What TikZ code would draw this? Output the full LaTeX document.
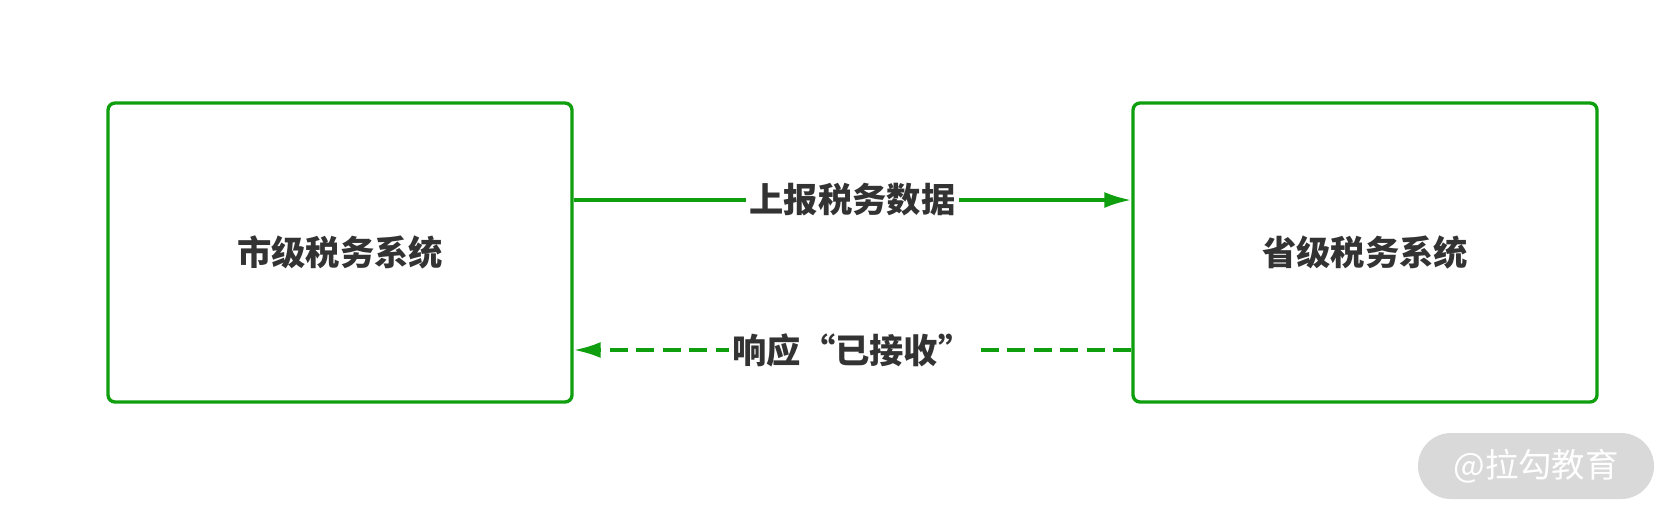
\documentclass[tikz,border=0pt]{standalone}
\usepackage{fontspec}
\usepackage{xcolor}
\usepackage{tikz}
\usetikzlibrary{arrows.meta,positioning}
\newfontfamily\cjk{Noto Sans CJK SC}
\definecolor{sysgreen}{HTML}{0E9E0E}
\definecolor{textgray}{HTML}{333333}
\definecolor{markgray}{HTML}{D9D9D9}
\tikzset{
  sysbox/.style={rectangle,rounded corners=4pt,draw=sysgreen,line width=1.9pt,fill=white,minimum width=9.28cm,minimum height=5.98cm,align=center,font=\cjk\bfseries\fontsize{19.5}{23}\selectfont,text=textgray},
  msglabel/.style={fill=white,inner sep=2pt,font=\cjk\bfseries\fontsize{19.5}{23}\selectfont,text=textgray},
  arrow/.style={-{Latex[length=5.4mm,width=3.2mm]},line width=1.9pt,draw=sysgreen},
  dasharrow/.style={arrow,dash pattern=on 0.36cm off 0.17cm},
  watermark/.style={rectangle,rounded corners=0.66cm,fill=markgray,minimum width=4.72cm,minimum height=1.32cm,text=white,font=\cjk\fontsize{19}{23}\selectfont}
}
\begin{document}
\begin{tikzpicture}
  \useasboundingbox (0,0) rectangle (33.52,-10.44);
  \node[sysbox] (city) at (6.8,-5.05) {市级税务系统};
  \node[sysbox] (prov) at (27.3,-5.05) {省级税务系统};

  \draw[arrow] ([yshift=1.05cm]city.east) -- node[msglabel]{上报税务数据} ([yshift=1.05cm]prov.west);
  \draw[dasharrow] ([yshift=-1.95cm]prov.west) -- node[msglabel]{响应“已接收”} ([yshift=-1.95cm]city.east);

  \node[watermark] (mark) at (30.72,-9.32) {@拉勾教育};
\end{tikzpicture}
\end{document}
